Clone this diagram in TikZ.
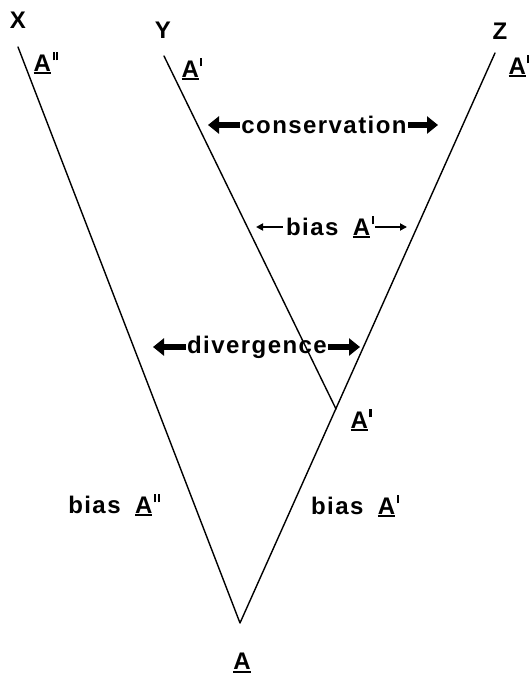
\documentclass[tikz,border=0pt]{standalone}
\usepackage{fontspec}
\setmainfont[LetterSpace=6]{Liberation Sans}
\usetikzlibrary{arrows.meta}
\newcommand{\ulA}{\setbox0\hbox{A}\rlap{\rule[-3pt]{\wd0}{2pt}}A}
\newcommand{\primemark}{\hspace{1.5pt}\rule[0.45em]{0.09em}{0.36em}}
\begin{document}
\begin{tikzpicture}[x=1pt,y=-1pt,line join=round,line cap=round,thick]
	\tikzset{every node/.style={font=\fontsize{24}{26}\selectfont\bfseries,inner sep=1pt},
		bigarrow/.style={line width=5.5pt,line cap=butt,-{Triangle[length=11pt,width=17pt]}},
		smallarrow/.style={line width=1.8pt,line cap=butt,-{Triangle[length=7pt,width=7pt]}}}
	\useasboundingbox (0,0) rectangle (529,676);
	% tips of the three lines, the branch point and the root
	\coordinate (xtop) at (18,47);
	\coordinate (ytop) at (164,56);
	\coordinate (ztop) at (495,53);
	\coordinate (junc) at (336,409);
	\coordinate (root) at (240,623);
	\draw[line width=1.4pt] (xtop) -- (root) -- (ztop);
	\draw[line width=1.4pt] (ytop) -- (junc);
	\node (X) at (18,20) {X};
	\node (Y) at (163,30) {Y};
	\node (Z) at (500,31) {Z};
	\node (ax) at (46,63) {\ulA\primemark\primemark};
	\node (ay) at (192,69) {\ulA\primemark};
	\node (az) at (519,66) {\ulA\primemark};
	\node (aj) at (361,420) {\ulA\primemark};
	\node (a0) at (242,663) {\ulA};
	% arrows between the lines
	\node (cons) at (324,125) {conservation};
	\coordinate (consL) at (208,125);
	\coordinate (consR) at (438,125);
	\draw[bigarrow] (cons.west) -- (consL);
	\draw[bigarrow] (cons.east) -- (consR);
	\node (bias) at (330,227) {bias\hspace{0.6em}\ulA\primemark};
	\coordinate (biasL) at (256,227);
	\coordinate (biasR) at (407,227);
	\draw[smallarrow] ([xshift=-2pt]bias.west) -- (biasL);
	\draw[smallarrow] (bias.east) -- (biasR);
	\node (div) at (257,347) {divergence};
	\coordinate (divL) at (153,347);
	\coordinate (divR) at (360,347);
	\draw[bigarrow] (div.west) -- (divL);
	\draw[bigarrow] (div.east) -- (divR);
	\node (bx) at (114,505) {bias\hspace{0.6em}\ulA\primemark\primemark};
	\node (bz) at (355,506) {bias\hspace{0.6em}\ulA\primemark};
\end{tikzpicture}
\end{document}
